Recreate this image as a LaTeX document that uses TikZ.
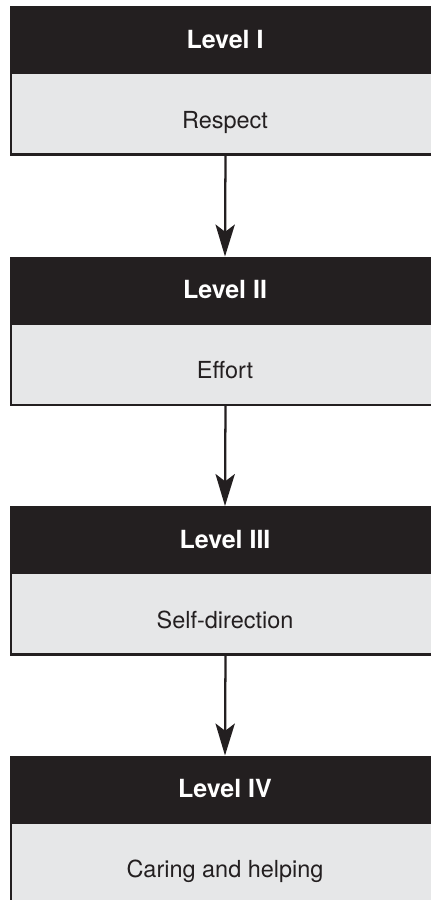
\documentclass[tikz,border=0pt]{standalone}
\usepackage{fontspec}
\setmainfont{TeX Gyre Heros}
\usetikzlibrary{arrows.meta}
\definecolor{ink}{HTML}{231F20}
\definecolor{pale}{HTML}{E6E7E8}
\begin{document}
\begin{tikzpicture}[x=0.75pt,y=-0.75pt,
  hdr/.style={fill=ink, draw=none, minimum width=322.5pt, minimum height=50.25pt,
    inner sep=0pt, outer sep=0pt, anchor=north west},
  bodybox/.style={fill=pale, draw=ink, line width=1.8pt, minimum width=321.75pt,
    minimum height=61.1pt, inner sep=0pt, outer sep=0pt, anchor=north west},
  ttl/.style={text=white, font=\bfseries\fontsize{18.75pt}{22pt}\selectfont,
    anchor=base, inner sep=0pt},
  lbl/.style={text=ink, font=\fontsize{17.6pt}{21pt}\selectfont,
    anchor=base, inner sep=0pt},
  conn/.style={draw=ink, line width=1.7pt,
    -{Stealth[length=24pt, width=14.5pt, inset=5.5pt]}}
]
\useasboundingbox (0,0) rectangle (431,900);
\clip (0,0) rectangle (431,900);
\foreach \i/\T/\hd/\bd in {1/6/Level I/Respect, 2/256.5/Level II/Effort,
    3/506/Level III/Self-direction, 4/755.5/Level IV/Caring and helping}{
  \node[hdr] (h\i) at (10,\T) {};
  \node[bodybox] (b\i) at (11,{\T+67}) {};
  \node[ttl] (t\i) at (225,{\T+42.3}) {\hd};
  \node[lbl] (l\i) at (225,{\T+122.3}) {\bd};
}
\foreach \i/\j in {1/2,2/3,3/4}{
  \draw[conn] (b\i.south) -- (h\j.north);
}
\end{tikzpicture}
\end{document}
